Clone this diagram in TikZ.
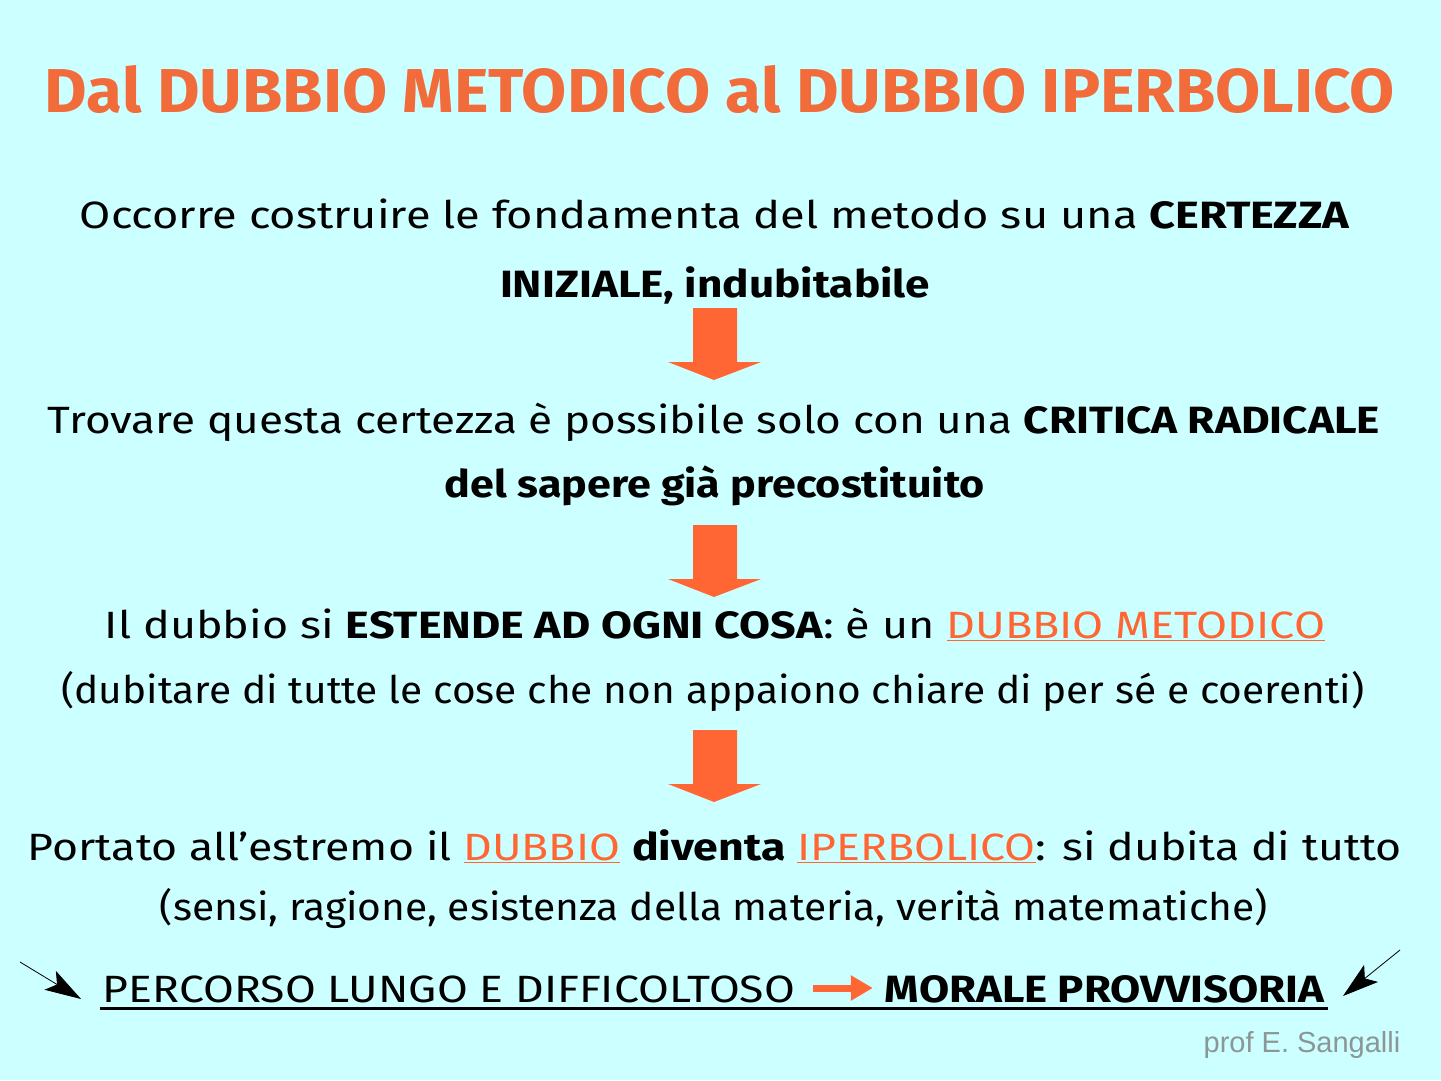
\documentclass[tikz,border=0pt]{standalone}
\usepackage{fontspec}
\setmainfont{Fira Sans}
\newfontfamily\proffont{Liberation Sans}
\usetikzlibrary{arrows.meta}
\definecolor{bgc}{HTML}{CCFFFF}
\definecolor{orng}{HTML}{FF6633}
\definecolor{ttl}{HTML}{F26B3A}
\definecolor{grayt}{HTML}{8C9696}
\newcommand{\fitto}[2]{\resizebox{#1pt}{\height}{#2}}
\newcommand{\ou}[1]{\textcolor{orng}{\underline{#1}}}
\begin{document}
\begin{tikzpicture}[x=1pt,y=-1pt,
  line/.style={anchor=base,inner sep=0pt,font=\fontsize{38}{40}\selectfont},
  bigarrow/.style={fill=orng,draw=none},
  dart/.style={line width=0.8pt,-{Stealth[length=36pt,width=22pt,inset=8pt]}}]
\useasboundingbox (0,0) rectangle (1441,1080);
\fill[bgc] (0,0) rectangle (1441,1080);

\node[line,font=\fontsize{62}{64}\selectfont\bfseries,text=ttl] (title) at (720,112)
  {\fitto{1350}{Dal DUBBIO METODICO al DUBBIO IPERBOLICO}};

\node[line] (l1) at (715,228) {\fitto{1270}{Occorre costruire le fondamenta del metodo su una \textbf{CERTEZZA}}};
\node[line] (l2) at (715,297) {\fitto{430}{\textbf{INIZIALE, indubitabile}}};

\fill[bigarrow] (693,308) -- (737,308) -- (737,362) -- (761,362) -- (714,380) -- (668,362) -- (693,362) -- cycle;

\node[line] (l3) at (714,433) {\fitto{1332}{Trovare questa certezza è possibile solo con una \textbf{CRITICA RADICALE}}};
\node[line] (l4) at (715,497) {\fitto{540}{\textbf{del sapere già precostituito}}};

\fill[bigarrow] (693,525) -- (737,525) -- (737,579) -- (761,579) -- (714,597) -- (668,579) -- (693,579) -- cycle;

\node[line] (l5) at (715,638) {\fitto{1220}{Il dubbio si \textbf{ESTENDE AD OGNI COSA}: è un \ou{DUBBIO METODICO}}};
\node[line] (l6) at (713,703) {\fitto{1303}{(dubitare di tutte le cose che non appaiono chiare di per sé e coerenti)}};

\fill[bigarrow] (693,730) -- (737,730) -- (737,784) -- (761,784) -- (714,802) -- (668,784) -- (693,784) -- cycle;

\node[line] (l7) at (715,860) {\fitto{1374}{Portato all'estremo il \ou{DUBBIO} \textbf{diventa} \ou{IPERBOLICO}: si dubita di tutto}};
\node[line] (l8) at (714,920) {\fitto{1108}{(sensi, ragione, esistenza della materia, verità matematiche)}};

\node[line] (p1) at (449,1002) {\fitto{692}{PERCORSO LUNGO E DIFFICOLTOSO}};
\node[line] (p2) at (1105,1002) {\fitto{440}{\textbf{MORALE PROVVISORIA}}};
\draw[line width=3pt] ([xshift=-3pt,yshift=-6pt]p1.base west) -- ([xshift=3pt,yshift=-6pt]p2.base east);
\draw[orng,line width=7pt,-{Triangle[length=22pt,width=24pt]}] ([xshift=18pt,yshift=14pt]p1.base east) -- ([xshift=-12pt,yshift=14pt]p2.base west);

\coordinate (la) at (20,962);
\coordinate (lb) at (81,999);
\coordinate (ra) at (1400,950);
\coordinate (rb) at (1343,996);
\draw[dart] (la) -- (lb);
\draw[dart] (ra) -- (rb);

\node[anchor=base,inner sep=0pt,text=grayt,font=\proffont\fontsize{29}{30}\selectfont] (prof) at (1302,1052) {prof E. Sangalli};
\end{tikzpicture}
\end{document}
